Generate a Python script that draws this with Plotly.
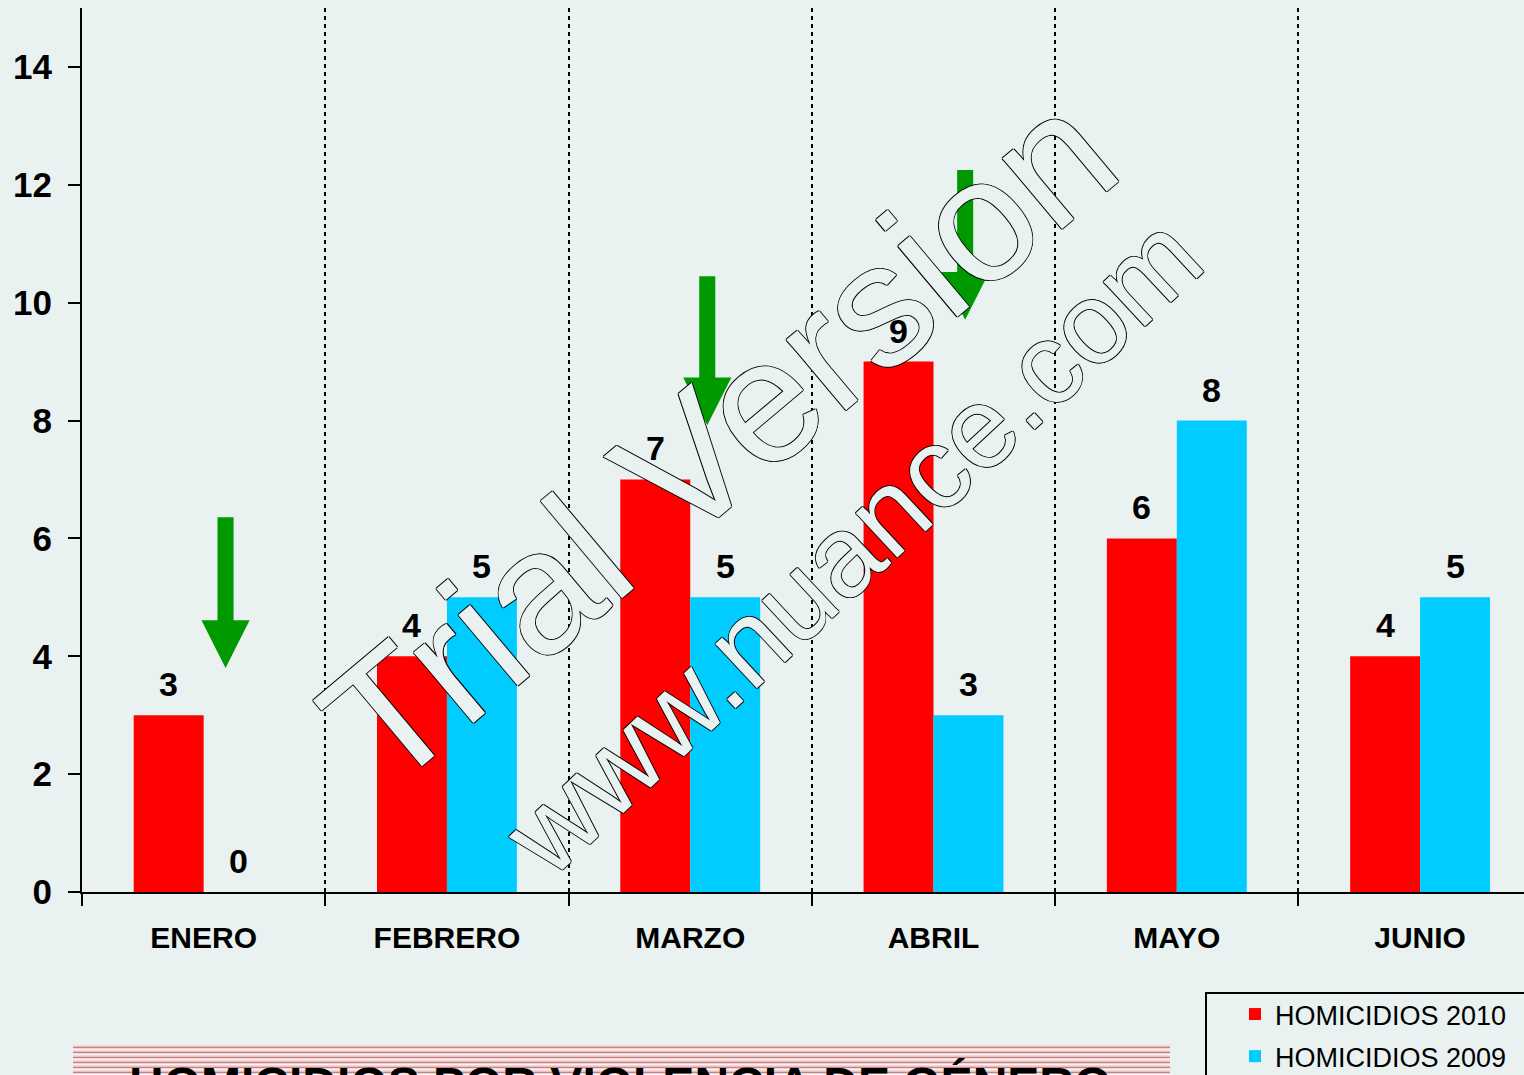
import plotly.graph_objects as go

# ---------------- data ----------------
months = ["ENERO", "FEBRERO", "MARZO", "ABRIL", "MAYO", "JUNIO"]
hom_2010 = [3, 4, 7, 9, 6, 4]
hom_2009 = [0, 5, 5, 3, 8, 5]
y_ticks = [0, 2, 4, 6, 8, 10, 12, 14]
series_names = ["HOMICIDIOS 2010", "HOMICIDIOS 2009"]
title_text = "HOMICIDIOS POR VIOLENCIA DE GÉNERO"
watermark_texts = ["Trial Version", "www.nuance.com"]

# green arrows (annotation marks): x position (category index), top and tip (y units)
arrow_x = [0.09, 2.07, 3.13]
arrow_top = [6.36, 10.45, 12.25]
arrow_tip = [3.80, 7.92, 9.71]

# ---------------- geometry / style ----------------
W, H = 1524, 1075
ML, MT, MB, MR = 82, 8, 183, 0
PW, PH = W - ML - MR, H - MT - MB


def px_x(x):
    return (x - ML) / PW


def px_y(y):
    return 1 - (y - MT) / PH


BG = "#e9f2f1"
RED = "#ff0000"
CYAN = "#00ccff"
GREEN = "#009900"
FONT = "Arial, 'Liberation Sans', sans-serif"
BARGAP = 0.425

fig = go.Figure()
fig.add_bar(x=months, y=hom_2010, name=series_names[0], marker_color=RED,
            marker_line_width=0, legendgroup="g2010")
fig.add_bar(x=months, y=hom_2009, name=series_names[1], marker_color=CYAN,
            marker_line_width=0, legendgroup="g2009")

# value labels
off = (1 - BARGAP) / 4
for i, (a, b) in enumerate(zip(hom_2010, hom_2009)):
    for xv, v in ((i - off, a), (i + off, b)):
        fig.add_annotation(x=xv, y=v, xref="x", yref="y", text=str(v),
                           showarrow=False, xanchor="center", yanchor="bottom",
                           yshift=10,
                           font=dict(size=34, color="black", family=FONT, weight="bold"))

# green arrows
hw, sw, hh = 0.099, 0.033, 0.81
for xc, top, tip in zip(arrow_x, arrow_top, arrow_tip):
    path = (f"M{xc - sw},{top} L{xc + sw},{top} L{xc + sw},{tip + hh} "
            f"L{xc + hw},{tip + hh} L{xc},{tip} L{xc - hw},{tip + hh} "
            f"L{xc - sw},{tip + hh} Z")
    fig.add_shape(type="path", path=path, xref="x", yref="y",
                  fillcolor=GREEN, line_width=0, layer="above")

# title band (striped) at bottom
fig.add_shape(type="rect", xref="paper", yref="paper",
              x0=px_x(73), x1=px_x(1170), y0=px_y(1085), y1=px_y(1045),
              fillcolor="#fdf1f1", line_width=0)
for yy in range(1046, 1085, 5):
    fig.add_shape(type="line", xref="paper", yref="paper",
                  x0=px_x(73), x1=px_x(1170), y0=px_y(yy), y1=px_y(yy),
                  line=dict(color="#eebcbc", width=1))
    fig.add_shape(type="line", xref="paper", yref="paper",
                  x0=px_x(73), x1=px_x(1170), y0=px_y(yy + 1.5), y1=px_y(yy + 1.5),
                  line=dict(color="#c68282", width=1.5))
fig.add_annotation(xref="paper", yref="paper", x=px_x(620), y=px_y(1056),
                   xanchor="center", yanchor="top", showarrow=False,
                   text=title_text,
                   font=dict(size=48, color="black", family=FONT, weight="bold"))

# legend frame
fig.add_shape(type="rect", xref="paper", yref="paper",
              x0=px_x(1206), x1=px_x(1540), y0=px_y(1090), y1=px_y(993),
              line=dict(color="black", width=2), fillcolor="rgba(0,0,0,0)")

# watermark (outlined text)
outline = "1px 0 0 #000, -1px 0 0 #000, 0 1px 0 #000, 0 -1px 0 #000"
fig.add_annotation(xref="paper", yref="paper", x=px_x(718), y=px_y(438),
                   xanchor="center", yanchor="middle", showarrow=False,
                   text=watermark_texts[0], textangle=-40,
                   font=dict(size=175, family=FONT, color=BG, shadow=outline))
fig.add_annotation(xref="paper", yref="paper", x=px_x(852), y=px_y(545),
                   xanchor="center", yanchor="middle", showarrow=False,
                   text=watermark_texts[1], textangle=-43,
                   font=dict(size=115, family=FONT, color=BG, shadow=outline))

fig.update_layout(
    width=W, height=H,
    margin=dict(l=ML, r=MR, t=MT, b=MB, pad=0, autoexpand=False),
    paper_bgcolor=BG, plot_bgcolor=BG,
    font=dict(family=FONT, color="black"),
    barmode="group", bargap=BARGAP, bargroupgap=0,
    showlegend=True,
    legend=dict(x=px_x(1235), y=px_y(990), xanchor="left", yanchor="top",
                bgcolor="rgba(0,0,0,0)", borderwidth=0,
                font=dict(size=27, family=FONT, color="black"),
                tracegroupgap=4, traceorder="grouped"),
)
fig.update_xaxes(
    type="category", range=[-0.5, 5.427], tickson="boundaries",
    ticks="outside", ticklen=12, tickwidth=2, tickcolor="black",
    showline=True, linecolor="black", linewidth=2,
    showgrid=True, gridcolor="black", gridwidth=2, griddash="4px,4px",
    zeroline=False, ticklabelstandoff=18,
    tickfont=dict(size=30, family=FONT, color="black", weight="bold"),
)
fig.update_yaxes(
    range=[0, 15], tickmode="array", tickvals=y_ticks,
    ticks="outside", ticklen=12, tickwidth=2, tickcolor="black",
    showline=True, linecolor="black", linewidth=2,
    showgrid=False, zeroline=False, ticklabelstandoff=9,
    tickfont=dict(size=35, family=FONT, color="black", weight="bold"),
)

fig.write_html(
    "out.html",
    config={"displayModeBar": False},
    post_script="document.body.style.margin='0';"
                "document.body.style.background='" + BG + "';"
                "document.body.style.overflow='hidden';",
)
